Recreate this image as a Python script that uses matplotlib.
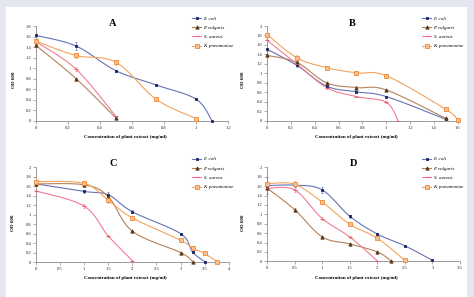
import numpy as np
import matplotlib
matplotlib.use("Agg")
import matplotlib.pyplot as plt
from matplotlib.patches import Rectangle
from matplotlib.lines import Line2D

plt.rcParams['font.family'] = ['Liberation Serif', 'DejaVu Serif']

species = ["E. coli", "P. vulgaris", "S. aureus", "K. pneumoniae"]

# ---- Panel A ----
A_ecoli_x = [0, 0.25, 0.5, 0.75, 1.0, 1.1]
A_ecoli_y = [1.62, 1.42, 0.95, 0.68, 0.41, 0.0]
A_ecoli_e = [0.02, 0.07, 0.02, 0.02, 0.02, 0.0]
A_pvul_x = [0, 0.25, 0.5]
A_pvul_y = [1.43, 0.80, 0.05]
A_pvul_e = [0.02, 0.02, 0.01]
A_saur_x = [0, 0.25, 0.5]
A_saur_y = [1.50, 0.98, 0.08]
A_saur_e = [0.02, 0.04, 0.01]
A_kpn_x = [0, 0.25, 0.5, 0.75, 1.0]
A_kpn_y = [1.51, 1.24, 1.11, 0.41, 0.04]
A_kpn_e = [0.03, 0.05, 0.05, 0.02, 0.01]

# ---- Panel B ----
B_ecoli_x = [0, 0.25, 0.5, 0.75, 1.0, 1.5]
B_ecoli_y = [1.51, 1.17, 0.73, 0.61, 0.51, 0.03]
B_ecoli_e = [0.03, 0.03, 0.02, 0.02, 0.02, 0.01]
B_pvul_x = [0, 0.25, 0.5, 0.75, 1.0, 1.5]
B_pvul_y = [1.38, 1.23, 0.80, 0.70, 0.65, 0.05]
B_pvul_e = [0.02, 0.03, 0.02, 0.03, 0.02, 0.01]
B_saur_x = [0, 0.25, 0.5, 0.75, 1.0, 1.1]
B_saur_y = [1.70, 1.20, 0.70, 0.51, 0.39, 0.0]
B_saur_e = [0.02, 0.02, 0.02, 0.02, 0.02, 0.0]
B_kpn_x = [0, 0.25, 0.5, 0.75, 1.0, 1.5, 1.6]
B_kpn_y = [1.82, 1.33, 1.12, 1.01, 0.95, 0.24, 0.01]
B_kpn_e = [0.03, 0.05, 0.04, 0.04, 0.04, 0.02, 0.01]

# ---- Panel C ----
C_ecoli_x = [0, 1, 1.5, 2, 3, 3.25, 3.5]
C_ecoli_y = [1.65, 1.49, 1.42, 1.06, 0.60, 0.21, 0.01]
C_ecoli_e = [0.03, 0.03, 0.06, 0.03, 0.02, 0.02, 0.0]
C_pvul_x = [0, 1, 1.5, 2, 3, 3.25]
C_pvul_y = [1.65, 1.63, 1.38, 0.65, 0.20, 0.01]
C_pvul_e = [0.03, 0.03, 0.04, 0.02, 0.02, 0.0]
C_saur_x = [0, 1, 1.5, 2]
C_saur_y = [1.50, 1.18, 0.55, 0.03]
C_saur_e = [0.02, 0.04, 0.02, 0.01]
C_kpn_x = [0, 1, 1.5, 2, 3, 3.25, 3.5, 3.75]
C_kpn_y = [1.70, 1.66, 1.30, 0.93, 0.46, 0.29, 0.18, 0.01]
C_kpn_e = [0.08, 0.06, 0.06, 0.03, 0.02, 0.02, 0.02, 0.0]

# ---- Panel D ----
D_ecoli_x = [0, 0.5, 1, 1.5, 2, 2.5, 3]
D_ecoli_y = [1.61, 1.62, 1.52, 0.96, 0.58, 0.33, 0.02]
D_ecoli_e = [0.18, 0.03, 0.06, 0.03, 0.02, 0.02, 0.0]
D_pvul_x = [0, 0.5, 1, 1.5, 2, 2.25]
D_pvul_y = [1.56, 1.10, 0.52, 0.37, 0.20, 0.01]
D_pvul_e = [0.02, 0.03, 0.02, 0.02, 0.02, 0.0]
D_saur_x = [0, 0.5, 1, 1.5, 2]
D_saur_y = [1.55, 1.52, 0.91, 0.52, 0.01]
D_saur_e = [0.02, 0.05, 0.03, 0.02, 0.0]
D_kpn_x = [0, 0.5, 1, 1.5, 2, 2.5]
D_kpn_y = [1.65, 1.64, 1.26, 0.79, 0.49, 0.02]
D_kpn_e = [0.04, 0.06, 0.04, 0.03, 0.02, 0.0]

panels = [
    dict(title="A", xmax=1.2, xstep=0.2, ymax=1.8,
         series=[(A_ecoli_x, A_ecoli_y, A_ecoli_e), (A_pvul_x, A_pvul_y, A_pvul_e),
                 (A_saur_x, A_saur_y, A_saur_e), (A_kpn_x, A_kpn_y, A_kpn_e)]),
    dict(title="B", xmax=1.6, xstep=0.2, ymax=2.0,
         series=[(B_ecoli_x, B_ecoli_y, B_ecoli_e), (B_pvul_x, B_pvul_y, B_pvul_e),
                 (B_saur_x, B_saur_y, B_saur_e), (B_kpn_x, B_kpn_y, B_kpn_e)]),
    dict(title="C", xmax=4.0, xstep=0.5, ymax=2.0,
         series=[(C_ecoli_x, C_ecoli_y, C_ecoli_e), (C_pvul_x, C_pvul_y, C_pvul_e),
                 (C_saur_x, C_saur_y, C_saur_e), (C_kpn_x, C_kpn_y, C_kpn_e)]),
    dict(title="D", xmax=3.5, xstep=0.5, ymax=2.0,
         series=[(D_ecoli_x, D_ecoli_y, D_ecoli_e), (D_pvul_x, D_pvul_y, D_pvul_e),
                 (D_saur_x, D_saur_y, D_saur_e), (D_kpn_x, D_kpn_y, D_kpn_e)]),
]

line_colors = ['#6673b5', '#b5835c', '#f27d92', '#f5a35c']
mk_colors = ['#1b2466', '#5a3a1e', '#e8506a', '#f08a3a']
mk_face = ['#1b2466', '#5a3a1e', '#e8506a', '#f9c08e']
markers = ['s', '^', '_', 's']
msizes = [2.0, 2.4, 3.0, 3.4]

W, H = 474, 297
fig = plt.figure(figsize=(W / 100, H / 100), dpi=100)
fig.patch.set_facecolor('#e4e6f0')
fig.add_artist(Rectangle((6 / W, 0), 461 / W, 290 / H, transform=fig.transFigure,
                         facecolor='white', edgecolor='none', zorder=0))

# axes rectangles in pixels: left, x-end, bottom(y px from top), top(y px from top)
rects = [(36, 228, 120.7, 26), (267, 457.7, 120.7, 26),
         (36, 228.7, 262, 167.3), (267, 460, 261.3, 167.3)]
title_pos = [(113, 24), (352, 24), (113, 163), (354, 163)]
xlabel_pos = [(125, 137), (356, 137), (125, 278.5), (356, 278)]
ylabel_pos = [(14, 80), (243, 80), (13, 223), (243, 223)]
legend_pos = [(192, 16), (422, 16), (192, 157), (422, 157)]


def smooth(x, y, sx, sy, n=24):
    pts = np.column_stack([np.asarray(x, float) * sx, np.asarray(y, float) * sy])
    m = len(pts)
    out = [pts[:1]]
    for i in range(m - 1):
        p0 = pts[max(i - 1, 0)]
        p1 = pts[i]
        p2 = pts[i + 1]
        p3 = pts[min(i + 2, m - 1)]
        c1 = p1 + (p2 - p0) / 6.0
        c2 = p2 - (p3 - p1) / 6.0
        t = np.linspace(0, 1, n)[1:, None]
        seg = ((1 - t) ** 3) * p1 + 3 * ((1 - t) ** 2) * t * c1 + 3 * (1 - t) * t ** 2 * c2 + t ** 3 * p2
        out.append(seg)
    res = np.vstack(out)
    return res[:, 0] / sx, res[:, 1] / sy


def fmt(v):
    s = f"{v:.1f}"
    if s.endswith(".0"):
        s = s[:-2]
    return s


for k, p in enumerate(panels):
    l, r, b, t = rects[k]
    ax = fig.add_axes([l / W, 1 - b / H, (r - l) / W, (b - t) / H])
    ax.set_facecolor('none')
    ax.set_xlim(0, p['xmax'])
    ax.set_ylim(0, p['ymax'])
    wpx, hpx = r - l, b - t
    sx, sy = wpx / p['xmax'], hpx / p['ymax']
    for j, (xs, ys, es) in enumerate(p['series']):
        cx, cy = smooth(xs, ys, sx, sy)
        ax.plot(cx, cy, color=line_colors[j], lw=0.8, zorder=3, clip_on=False)
        ax.errorbar(xs, ys, yerr=es, fmt='none', ecolor=line_colors[j], elinewidth=0.5,
                    capsize=0.8, capthick=0.5, zorder=4, clip_on=False)
        ax.plot(xs, ys, linestyle='none', marker=markers[j], ms=msizes[j],
                mfc=mk_face[j], mec=mk_colors[j], mew=0.6, zorder=5, clip_on=False)
    for s in ['top', 'right']:
        ax.spines[s].set_visible(False)
    for s in ['left', 'bottom']:
        ax.spines[s].set_color('#8c8c8c')
        ax.spines[s].set_linewidth(0.6)
    xt = np.arange(0, p['xmax'] + 1e-9, p['xstep'])
    yt = np.arange(0, p['ymax'] + 1e-9, 0.2)
    ax.set_xticks(xt)
    ax.set_xticklabels([fmt(v) for v in xt])
    ax.set_yticks(yt)
    ax.set_yticklabels([fmt(v) for v in yt])
    ax.tick_params(axis='both', length=2, width=0.5, color='#8c8c8c', labelsize=3.3,
                   pad=1.5, labelcolor='#222222')

    tx, ty = title_pos[k]
    fig.text(tx / W, 1 - ty / H, p['title'], fontsize=7.5, fontweight='bold',
             ha='center', va='center')
    xx, xy = xlabel_pos[k]
    fig.text(xx / W, 1 - xy / H, "Concentration of plant extract (mg/ml)", fontsize=3.6,
             fontweight='bold', ha='center', va='center')
    yx, yy = ylabel_pos[k]
    fig.text(yx / W, 1 - yy / H, "OD 600", fontsize=3.6, fontweight='bold',
             rotation=90, ha='center', va='center')

    handles = [Line2D([], [], color=line_colors[j], lw=0.8, marker=markers[j],
                      ms=msizes[j], mfc=mk_face[j], mec=mk_colors[j], mew=0.6)
               for j in range(4)]
    lx, ly = legend_pos[k]
    leg = fig.legend(handles, species, loc='upper left',
                     bbox_to_anchor=(lx / W, 1 - ly / H), frameon=False,
                     prop={'style': 'italic', 'size': 3.6}, handlelength=1.8,
                     handletextpad=0.5, labelspacing=0.95, borderpad=0, borderaxespad=0)

fig.savefig("out.png", dpi=100, facecolor=fig.get_facecolor())
